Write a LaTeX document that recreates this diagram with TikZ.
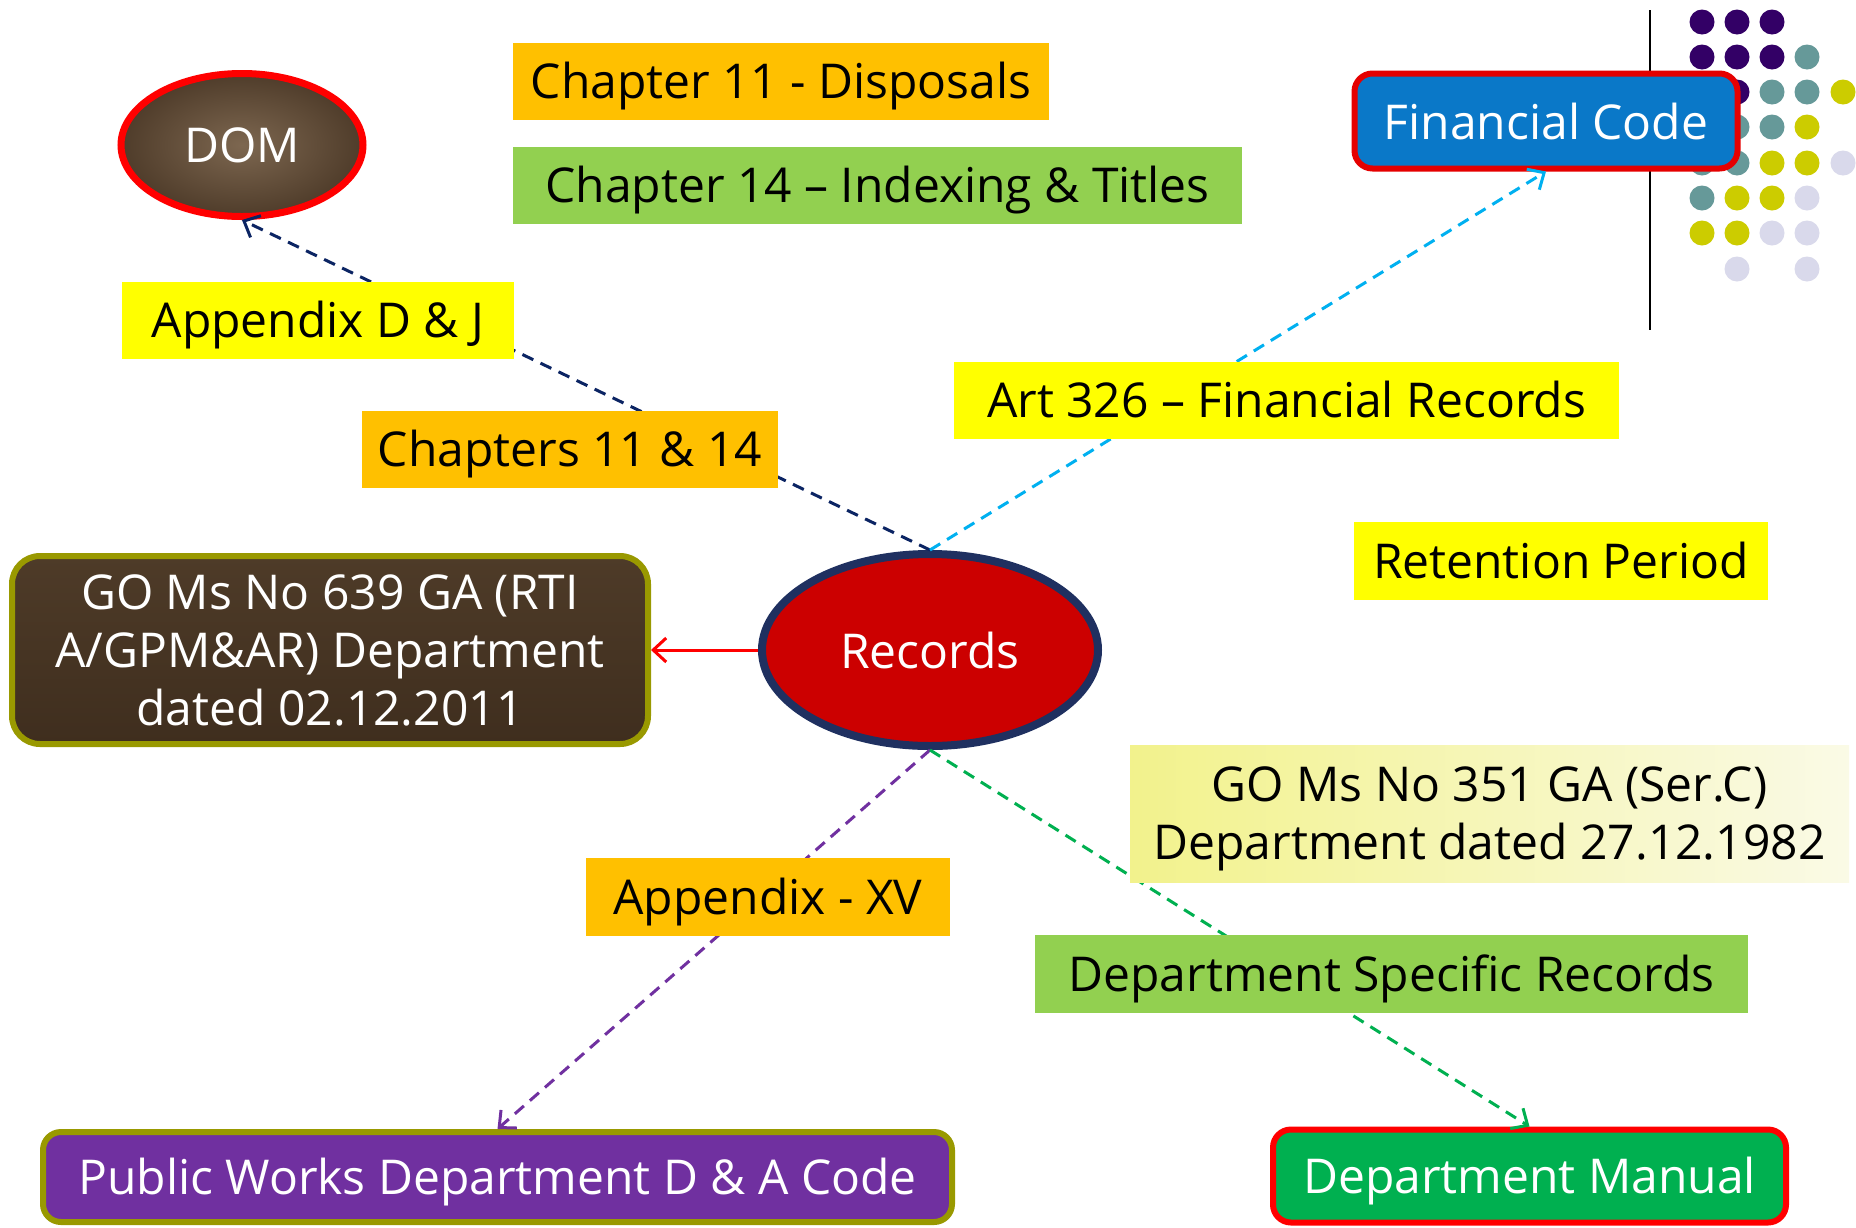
\documentclass[tikz,border=0pt]{standalone}
\usepackage{fontspec}
\setmainfont{Open Sans}
\usetikzlibrary{arrows.meta,shapes.geometric}
\definecolor{cOrange}{HTML}{FFC000}
\definecolor{cLGreen}{HTML}{92D050}
\definecolor{cYellow}{HTML}{FFFF00}
\definecolor{cNavy}{HTML}{0B2463}
\definecolor{cCyan}{HTML}{00B0F0}
\definecolor{cPurple}{HTML}{7030A0}
\definecolor{cGreen}{HTML}{00B050}
\definecolor{cOlive}{HTML}{999900}
\definecolor{cRecRed}{HTML}{CC0000}
\definecolor{cRecBorder}{HTML}{1F3060}
\definecolor{cBlue}{HTML}{0A78C8}
\definecolor{cWood}{HTML}{3F2E1E}
\definecolor{cWoodL}{HTML}{4E3B28}
\definecolor{cDom}{HTML}{4F3C2A}
\definecolor{cDomL}{HTML}{7D6750}
\definecolor{dPurple}{HTML}{330066}
\definecolor{dTeal}{HTML}{669999}
\definecolor{dYellow}{HTML}{CCCC00}
\definecolor{dLav}{HTML}{D9D9EB}
\definecolor{cPale}{HTML}{F2F28C}
\definecolor{cPaleR}{HTML}{FAFAE6}
\begin{document}
\begin{tikzpicture}[x=1pt,y=-1pt,
  every node/.style={font=\fontsize{48}{58}\selectfont},
  low/.style={text height=34pt, text depth=0pt},
  lbl/.style={rectangle, inner sep=0pt, minimum height=77pt, text=black},
  conn/.style={line width=3pt, dash pattern=on 12pt off 8pt,
    -{Straight Barb[length=13pt,width=24pt,line width=3pt]}}
]
\useasboundingbox (0,0) rectangle (1856,1227);
\fill[white] (0,0) rectangle (1856,1227);

% decorative dots and line
\draw[line width=2.5pt] (1650,10) -- (1650,330);
\foreach \c/\x/\y in {
  dPurple/1702/22, dPurple/1737/22, dPurple/1772/22,
  dPurple/1702/57, dPurple/1737/57, dPurple/1772/57, dTeal/1807/57,
  dPurple/1702/92, dPurple/1737/92, dTeal/1772/92, dTeal/1807/92, dYellow/1843/92,
  dTeal/1702/127, dTeal/1737/127, dTeal/1772/127, dYellow/1807/127,
  dTeal/1702/163, dTeal/1737/163, dYellow/1772/163, dYellow/1807/163, dLav/1843/163,
  dTeal/1702/198, dYellow/1737/198, dYellow/1772/198, dLav/1807/198,
  dYellow/1702/233, dYellow/1737/233, dLav/1772/233, dLav/1807/233,
  dLav/1737/269, dLav/1807/269}
  \fill[\c] (\x,\y) circle (12.5pt);

% main nodes
\node[ellipse, minimum width=336pt, minimum height=192pt, inner sep=0pt,
  draw=cRecBorder, line width=8pt, fill=cRecRed, text=white,
  path picture={\draw[red!85!white, line width=5pt, opacity=0.7] (930,650) ellipse [x radius=162pt, y radius=88pt];
                \draw[red!55!black, line width=1.2pt, opacity=0.5] (930,650) ellipse [x radius=146pt, y radius=76pt];}]
  (rec) at (930,650) {Records};

\node[ellipse, minimum width=242pt, minimum height=143pt, inner sep=0pt,
  draw=red, line width=7pt, inner color=cDomL, outer color=cDom, text=white,
  path picture={\foreach \px/\py/\r in {190/120/22, 280/170/26, 230/110/18, 300/125/20, 170/165/16, 250/180/14}
     \fill[white, opacity=0.10] (\px,\py) circle (\r pt);}]
  (dom) at (242,145) {DOM};

\node[rectangle, rounded corners=18pt, minimum width=383pt, minimum height=95pt, inner sep=0pt,
  draw=red!90!black, line width=6pt, fill=cBlue, text=white,
  path picture={\draw[white, opacity=0.25, line width=2pt, rounded corners=12pt] (1365,84) rectangle (1727,158);}]
  (fin) at (1546,121) {Financial Code};

\node[rectangle, rounded corners=28pt, minimum width=636pt, minimum height=188pt, inner sep=0pt,
  draw=cOlive, line width=6pt, top color=cWoodL, bottom color=cWood, text=white, align=center,
  path picture={\foreach \yy in {575,603,628,662,690,722}
     \draw[white, opacity=0.07, line width=4pt] (0,\yy) .. controls (200,\yy-12) and (420,\yy+14) .. (660,\yy-4);}]
  (go639) at (330,650) {GO Ms No 639 GA (RTI\\A/GPM\&AR) Department\\dated 02.12.2011};

\node[rectangle, rounded corners=18pt, minimum width=909pt, minimum height=90pt, inner sep=0pt, low,
  draw=cOlive, line width=6pt, fill=cPurple, text=white] (pwd) at (497.5,1177) {Public Works Department D \& A Code};

\node[rectangle, rounded corners=18pt, minimum width=513pt, minimum height=93pt, inner sep=0pt, low,
  draw=red, line width=6pt, fill=cGreen, text=white,
  path picture={\draw[white, opacity=0.25, line width=2pt] (1290,1140) rectangle (1769,1215);}]
  (dman) at (1529.5,1176) {Department Manual};

% connectors
\draw[conn, cNavy] (rec.north) -- (dom.south);
\draw[conn, cCyan] (rec.north) -- (fin.south);
\draw[line width=3pt, red, -{Straight Barb[length=13pt,width=24pt,line width=3pt]}] (rec.west) -- (go639.east);
\draw[conn, cPurple] (rec.south) -- (pwd.north);
\draw[conn, cGreen] (rec.south) -- (dman.north);

% labels
\node[lbl, low, fill=cOrange, minimum width=536pt] (ch11) at (781,81.5) {Chapter 11 - Disposals};
\node[lbl, low, fill=cLGreen, minimum width=729pt] (ch14) at (877.5,185.5) {Chapter 14 – Indexing \& Titles};
\node[lbl, low, fill=cYellow, minimum width=392pt] (appdj) at (318,320.5) {Appendix D \& J};
\node[lbl, low, fill=cOrange, minimum width=416pt] (ch1114) at (570,449.5) {Chapters 11 \& 14};
\node[lbl, low, fill=cYellow, minimum width=665pt] (art) at (1286.5,400.5) {Art 326 – Financial Records};
\node[lbl, low, fill=cYellow, minimum width=414pt, minimum height=78pt] (ret) at (1561,561) {Retention Period};
\node[lbl, left color=cPale, right color=cPaleR, minimum width=719pt, minimum height=137pt, align=center,
  text depth=0pt]
  (go351) at (1489.5,813.5) {GO Ms No 351 GA (Ser.C)\\Department dated 27.12.1982};
\node[lbl, low, fill=cOrange, minimum width=364pt, minimum height=78pt] (appxv) at (768,897) {Appendix - XV};
\node[lbl, low, fill=cLGreen, minimum width=713pt, minimum height=78pt] (dspec) at (1391.5,974) {Department Specific Records};
\end{tikzpicture}
\end{document}
